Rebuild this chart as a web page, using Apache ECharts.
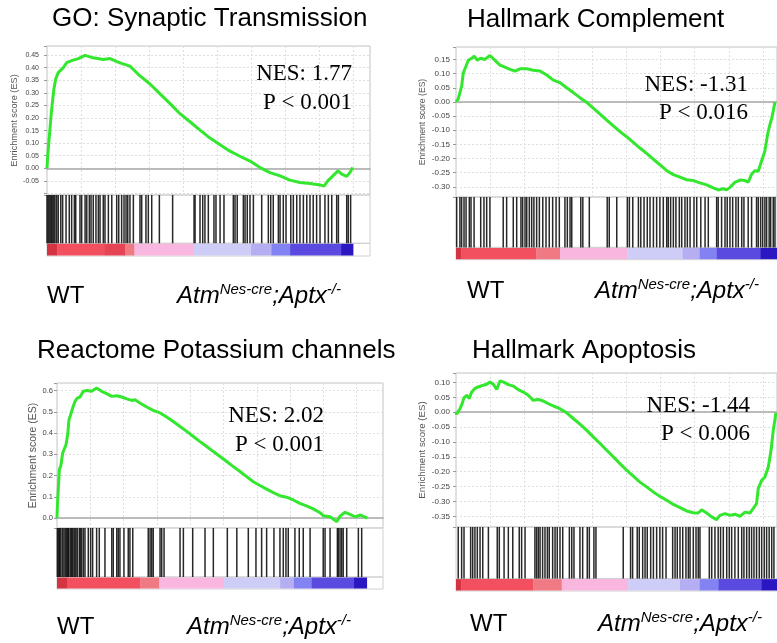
<!DOCTYPE html>
<html><head><meta charset="utf-8">
<script src="https://cdn.jsdelivr.net/npm/echarts@6.0.0/dist/echarts.min.js"></script>
<style>html,body{margin:0;padding:0;background:#fff}#c{width:777px;height:643px}</style>
</head><body><div id="c"></div>
<script>
// ---------- data (gene rank in thousands, running enrichment score) ----------
const titles = ['GO: Synaptic Transmission','Hallmark Complement','Reactome Potassium channels','Hallmark Apoptosis'];
const nesLabels = ['NES: 1.77','NES: -1.31','NES: 2.02','NES: -1.44'];
const pLabels = ['P < 0.001','P < 0.016','P < 0.001','P < 0.006'];
const lowGroup = 'WT';
const yName = 'Enrichment score (ES)';

const p1Ticks = ['-0.05','0.00','0.05','0.10','0.15','0.20','0.25','0.30','0.35','0.40','0.45'];
const p2Ticks = ['-0.30','-0.25','-0.20','-0.15','-0.10','-0.05','0.00','0.05','0.10','0.15'];
const p3Ticks = ['0.0','0.1','0.2','0.3','0.4','0.5','0.6'];
const p4Ticks = ['-0.35','-0.30','-0.25','-0.20','-0.15','-0.10','-0.05','0.00','0.05','0.10'];

const p1Curve = [[0,0],[0.04,0.048],[0.12,0.113],[0.18,0.16],[0.24,0.21],[0.31,0.257],[0.41,0.316],[0.51,0.355],[0.66,0.38],[0.96,0.40],[1.16,0.42],[1.45,0.428],[1.84,0.436],[2.24,0.449],[2.72,0.439],[3.31,0.432],[3.71,0.436],[4.29,0.419],[4.88,0.406],[5.47,0.367],[6.06,0.335],[6.65,0.296],[7.24,0.257],[7.82,0.217],[8.41,0.185],[9.0,0.152],[9.59,0.12],[10.18,0.094],[10.76,0.068],[11.35,0.048],[11.94,0.029],[12.53,0.003],[13.12,-0.017],[13.71,-0.03],[14.29,-0.047],[14.88,-0.056],[15.47,-0.06],[16.06,-0.066],[16.29,-0.071],[16.53,-0.049],[16.82,-0.03],[17.12,-0.01],[17.34,-0.023],[17.63,-0.032],[17.82,-0.017],[17.98,0.003]];
const p2Curve = [[0,0],[0.04,-0.002],[0.13,0.01],[0.23,0.015],[0.33,0.056],[0.43,0.103],[0.59,0.127],[0.72,0.147],[0.92,0.154],[1.07,0.162],[1.25,0.147],[1.45,0.154],[1.70,0.15],[1.99,0.164],[2.29,0.147],[2.58,0.13],[2.87,0.123],[3.17,0.115],[3.46,0.109],[3.75,0.117],[4.15,0.117],[4.53,0.112],[4.93,0.109],[5.32,0.095],[5.71,0.077],[6.10,0.068],[6.49,0.05],[6.88,0.033],[7.27,0.015],[7.67,-0.002],[8.05,-0.022],[8.45,-0.043],[8.84,-0.064],[9.23,-0.085],[9.62,-0.105],[10.01,-0.123],[10.40,-0.143],[10.79,-0.163],[11.18,-0.182],[11.57,-0.202],[11.96,-0.222],[12.36,-0.243],[12.75,-0.257],[13.14,-0.266],[13.53,-0.275],[13.92,-0.278],[14.31,-0.286],[14.70,-0.293],[15.09,-0.304],[15.38,-0.311],[15.68,-0.307],[15.88,-0.311],[16.07,-0.302],[16.36,-0.284],[16.66,-0.276],[16.95,-0.278],[17.14,-0.284],[17.34,-0.255],[17.54,-0.243],[17.73,-0.245],[17.93,-0.208],[18.12,-0.173],[18.28,-0.114],[18.42,-0.079],[18.51,-0.061],[18.61,-0.032],[18.71,0.0]];
const p3Curve = [[0,0],[0.02,0.053],[0.08,0.14],[0.14,0.227],[0.24,0.25],[0.34,0.306],[0.44,0.313],[0.54,0.345],[0.64,0.392],[0.72,0.463],[0.82,0.487],[0.94,0.518],[1.08,0.549],[1.22,0.565],[1.38,0.57],[1.58,0.597],[1.82,0.601],[2.08,0.597],[2.38,0.612],[2.68,0.597],[2.98,0.586],[3.29,0.573],[3.59,0.576],[3.89,0.57],[4.19,0.561],[4.49,0.554],[4.68,0.557],[4.98,0.542],[5.39,0.523],[5.78,0.507],[6.19,0.495],[6.59,0.476],[6.98,0.455],[7.39,0.431],[7.79,0.408],[8.19,0.384],[8.59,0.36],[8.99,0.337],[9.39,0.313],[9.79,0.29],[10.19,0.266],[10.59,0.242],[10.99,0.219],[11.39,0.195],[11.79,0.171],[12.19,0.153],[12.59,0.136],[12.99,0.12],[13.39,0.105],[13.79,0.098],[14.19,0.085],[14.59,0.069],[14.98,0.057],[15.39,0.043],[15.80,0.025],[15.99,0.011],[16.40,0.006],[16.80,-0.017],[17.0,0.009],[17.30,0.027],[17.60,0.017],[17.90,0.006],[18.24,0.014],[18.46,0.006],[18.64,0.0]];
const p4Curve = [[0,0],[0.04,-0.007],[0.13,-0.01],[0.23,0.012],[0.33,0.024],[0.47,0.049],[0.63,0.057],[0.78,0.046],[0.92,0.068],[1.11,0.08],[1.31,0.085],[1.60,0.091],[1.80,0.094],[1.99,0.102],[2.19,0.094],[2.39,0.077],[2.58,0.105],[2.77,0.102],[3.07,0.093],[3.36,0.088],[3.65,0.076],[3.95,0.068],[4.24,0.057],[4.53,0.04],[4.83,0.043],[5.12,0.038],[5.41,0.029],[5.71,0.021],[6.10,0.012],[6.49,-0.002],[6.88,-0.021],[7.27,-0.04],[7.67,-0.061],[8.05,-0.083],[8.45,-0.105],[8.84,-0.128],[9.23,-0.15],[9.62,-0.173],[10.01,-0.195],[10.40,-0.215],[10.79,-0.235],[11.18,-0.251],[11.57,-0.268],[11.96,-0.283],[12.36,-0.296],[12.75,-0.31],[13.14,-0.321],[13.53,-0.332],[13.92,-0.338],[14.21,-0.339],[14.41,-0.328],[14.70,-0.339],[15.00,-0.352],[15.29,-0.361],[15.48,-0.347],[15.78,-0.341],[16.07,-0.347],[16.36,-0.343],[16.66,-0.35],[16.95,-0.336],[17.24,-0.339],[17.43,-0.324],[17.63,-0.307],[17.73,-0.257],[17.93,-0.229],[18.12,-0.218],[18.32,-0.184],[18.48,-0.128],[18.61,-0.061],[18.77,-0.002]];

const p1Hits = [0,0.06,0.12,0.18,0.24,0.29,0.35,0.41,0.47,0.57,0.66,0.81,0.92,1.12,1.31,1.45,1.61,1.69,1.94,2.04,2.24,2.34,2.49,2.59,2.72,2.88,3.02,3.12,3.31,3.41,3.61,3.81,4.10,4.22,4.39,4.53,4.65,4.75,4.88,5.08,5.47,5.57,5.82,5.96,6.16,6.61,7.39,8.65,8.71,9.0,9.16,9.29,9.49,9.82,9.94,10.18,10.41,10.96,11.06,11.19,11.55,11.65,11.78,11.94,12.14,12.63,13.02,13.16,13.31,13.61,13.71,13.90,14.06,14.34,14.49,14.69,14.88,15.08,15.28,15.47,15.66,15.86,16.06,16.35,16.55,16.75,17.04,17.14,17.63,17.72,17.86];
const p2Hits = [0.04,0.23,0.33,0.47,0.59,0.78,0.88,1.06,1.45,1.64,1.80,1.99,2.77,2.97,3.36,3.56,3.81,3.91,4.05,4.15,4.30,4.44,4.57,4.73,4.89,5.09,5.28,5.47,5.67,5.87,6.06,6.39,6.53,6.69,6.79,7.32,7.44,7.82,8.87,8.99,9.43,10.05,10.17,10.37,10.70,10.84,11.03,11.22,11.38,11.58,11.77,11.96,12.16,12.36,12.45,12.59,12.75,12.90,13.10,13.24,13.43,13.57,13.73,13.96,14.12,14.36,14.61,14.80,15.29,15.38,15.58,15.78,15.91,16.07,16.23,16.42,16.56,16.76,16.89,17.14,17.34,17.63,17.73,17.87,17.99,18.12,18.22,18.37,18.46,18.61,18.71];
const p3Hits = [0.02,0.08,0.14,0.18,0.24,0.34,0.42,0.50,0.58,0.64,0.68,0.72,0.82,0.88,0.94,1.02,1.08,1.14,1.22,1.34,1.40,1.48,1.58,1.68,1.88,2.02,2.14,2.38,2.54,2.88,3.29,3.38,3.59,3.68,3.78,4.02,4.28,4.38,4.55,5.48,5.59,5.69,5.78,6.19,6.29,6.43,7.39,7.59,8.15,8.89,9.39,10.23,10.80,11.49,11.95,12.29,12.59,13.03,13.39,13.59,13.75,13.89,14.29,14.55,14.79,15.20,15.99,16.10,16.40,16.84,16.90,17.00,17.10,17.19,17.40,18.10,18.30];
const p4Hits = [0.13,0.33,0.47,0.86,0.98,1.11,1.25,1.41,1.57,1.90,2.42,2.54,2.82,3.07,3.33,3.71,3.85,4.05,4.63,4.73,4.83,4.93,5.08,5.22,5.36,5.47,5.67,5.81,5.94,6.10,6.26,6.65,6.79,6.92,7.27,7.43,7.70,7.82,8.09,8.21,9.81,10.24,10.36,10.63,10.75,10.95,11.09,11.22,11.42,11.58,11.77,11.96,12.12,12.32,12.71,12.85,12.98,13.14,13.30,13.49,13.63,13.73,13.92,14.08,14.21,14.31,14.86,15.00,15.19,15.38,15.52,15.68,15.88,16.03,16.17,16.36,16.56,16.76,16.89,17.05,17.20,17.34,17.48,17.63,17.79,17.93,18.08,18.22,18.37,18.52,18.65];

// ranked-list metric bands: [startRank, endRank, metricLevel]
const p1Bar = [[0,0.6,1.0],[0.6,3.4,0.85],[3.4,4.6,0.95],[4.6,5.14,0.7],[5.14,8.65,0.5],[8.65,12.0,-0.5],[12.0,13.2,-0.6],[13.2,14.3,-0.7],[14.3,17.3,-0.85],[17.3,18.0,-1.0]];
const p2Bar = [[0,0.3,1.0],[0.3,4.7,0.85],[4.7,6.1,0.7],[6.1,10.05,0.5],[10.05,13.3,-0.5],[13.3,14.3,-0.6],[14.3,15.3,-0.7],[15.3,17.87,-0.85],[17.87,18.83,-1.0]];
const p3Bar = [[0,0.6,1.0],[0.6,5.0,0.85],[5.0,6.14,0.7],[6.14,10.03,0.5],[10.03,13.4,-0.5],[13.4,14.23,-0.6],[14.23,15.3,-0.7],[15.3,17.84,-0.85],[17.84,18.6,-1.0]];
const p4Bar = [[0,0.3,1.0],[0.3,4.53,0.85],[4.53,6.2,0.7],[6.2,10.1,0.5],[10.1,13.14,-0.5],[13.14,14.3,-0.6],[14.3,15.4,-0.7],[15.4,17.93,-0.85],[17.93,18.83,-1.0]];

// ---------- layout / style ----------
const curves = [p1Curve,p2Curve,p3Curve,p4Curve];
const hitsAll = [p1Hits,p2Hits,p3Hits,p4Hits];
const bars = [p1Bar,p2Bar,p3Bar,p4Bar];
const ticksAll = [p1Ticks,p2Ticks,p3Ticks,p4Ticks];
const L = [
 {left:47, top:46, h:149, hitH:48.3, barH:12.7, w:323, xMax:19.0, yMin:-0.106, yMax:0.486, step:0.05, tf:7, lm:8, nf:9.2, ng:28, tx:52, ty:19, nr:352, ny:74, py:102.5, wx:47, ly:296, ax:177},
 {left:456, top:47, h:150, hitH:50.4, barH:12.3, w:321, xMax:18.83, yMin:-0.336, yMax:0.194, step:0.05, tf:8, lm:6, nf:8.6, ng:29, tx:467, ty:19.5, nr:748, ny:85, py:113, wx:467, ly:291.5, ax:595},
 {left:57, top:383, h:145, hitH:49, barH:12, w:326, xMax:19.58, yMin:-0.047, yMax:0.636, step:0.1, tf:7.5, lm:4, nf:10.5, ng:18.5, tx:37, ty:351.3, nr:324, ny:415.7, py:445, wx:57, ly:627.5, ax:187},
 {left:456, top:373, h:154, hitH:51.6, barH:12.4, w:321, xMax:18.83, yMin:-0.386, yMax:0.132, step:0.05, tf:8, lm:6, nf:9.7, ng:29, tx:472, ty:351.3, nr:750, ny:405.7, py:434, wx:470, ly:624, ax:598}
];
const SANS = '"Liberation Sans", Arial, sans-serif';
const SERIF = '"Liberation Serif", "Times New Roman", serif';

const grid = [], xAxis = [], yAxis = [], series = [], graphic = [];
L.forEach((l, i) => {
  const g = i * 3;
  grid.push({left:l.left, top:l.top, width:l.w, height:l.h, show:true, borderColor:'#c4c4c4', borderWidth:1, outerBoundsMode:'none', containLabel:false});
  grid.push({left:l.left, top:l.top + l.h, width:l.w, height:l.hitH, show:true, borderColor:'#d0d0d0', borderWidth:1, outerBoundsMode:'none', containLabel:false});
  grid.push({left:l.left, top:l.top + l.h + l.hitH, width:l.w, height:l.barH, show:true, borderColor:'#d0d0d0', borderWidth:1, outerBoundsMode:'none', containLabel:false});
  xAxis.push({type:'value', gridIndex:g, min:0, max:l.xMax, interval:2,
    axisLabel:{show:false}, axisTick:{show:false},
    axisLine:{show:true, onZero:true, lineStyle:{color:'#a8a8a8', width:1.5}},
    splitLine:{show:true, lineStyle:{color:'#dedede', type:[2,2], width:1}}});
  for (let k = 1; k <= 2; k++) xAxis.push({type:'value', gridIndex:g + k, min:0, max:l.xMax, show:false, splitLine:{show:false}});
  const ticks = ticksAll[i];
  yAxis.push({type:'value', gridIndex:g, min:l.yMin, max:l.yMax, splitNumber:10, minInterval:l.step, maxInterval:l.step,
    name:yName, nameLocation:'middle', nameGap:l.ng, nameRotate:90,
    nameTextStyle:{fontFamily:SANS, fontSize:l.nf, color:'#555'},
    axisLine:{show:false}, axisTick:{show:true, length:3, lineStyle:{color:'#999'}},
    axisLabel:{interval:0, margin:l.lm, fontFamily:SANS, fontSize:l.tf, color:'#444',
      formatter: v => ticks.find(s => Math.abs(parseFloat(s) - v) < 1e-6) || ''},
    splitLine:{show:true, lineStyle:{color:'#dedede', type:[2,2], width:1}}});
  for (let k = 1; k <= 2; k++) yAxis.push({type:'value', gridIndex:g + k, min:0, max:1, show:false, splitLine:{show:false}});

  series.push({type:'line', xAxisIndex:g, yAxisIndex:g, data:curves[i], showSymbol:false, symbol:'none',
    lineStyle:{color:'#33e62e', width:3}, z:5, animation:false});
  series.push({type:'custom', xAxisIndex:g + 1, yAxisIndex:g + 1, data:hitsAll[i].map(r => [r, 0.5]), encode:{x:0, y:1}, animation:false,
    renderItem:(params, api) => {
      const x = api.coord([api.value(0), 0.5])[0];
      const cs = params.coordSys;
      return {type:'line', shape:{x1:x, y1:cs.y, x2:x, y2:cs.y + cs.height}, style:{stroke:'#111', lineWidth:1.5, opacity:0.9}};
    }});
  series.push({type:'custom', xAxisIndex:g + 2, yAxisIndex:g + 2, data:bars[i], encode:{x:[0,1], y:2}, animation:false,
    renderItem:(params, api) => {
      const a = api.coord([api.value(0), 0.5])[0], b = api.coord([api.value(1), 0.5])[0];
      const cs = params.coordSys;
      return {type:'rect', shape:{x:a, y:cs.y + 0.5, width:b - a + 0.4, height:cs.height - 1}, style:{fill:api.visual('color')}};
    }});

  const txt = (x, y, text, font, align) => ({type:'text', x, y, z:100, silent:true,
    style:{text, font, fill:'#000', align, textAlign:align, verticalAlign:'middle', textVerticalAlign:'middle'}});
  graphic.push(txt(l.tx, l.ty, titles[i], '26px ' + SANS, 'left'));
  graphic.push(txt(l.nr, l.ny, nesLabels[i], '23px ' + SERIF, 'right'));
  graphic.push(txt(l.nr, l.py, pLabels[i], '23px ' + SERIF, 'right'));
  graphic.push(txt(l.wx, l.ly, lowGroup, '24px ' + SANS, 'left'));
  graphic.push({type:'text', x:l.ax, y:l.ly, z:100, silent:true,
    style:{text:'{m|Atm}{s|Nes-cre}{m|;Aptx}{s|-/-}', fill:'#000', align:'left', textAlign:'left', verticalAlign:'middle', textVerticalAlign:'middle',
      rich:{m:{fontFamily:SANS, fontStyle:'italic', fontSize:24, lineHeight:28},
            s:{fontFamily:SANS, fontStyle:'italic', fontSize:15, lineHeight:17, verticalAlign:'top'}}}});
});

const chart = echarts.init(document.getElementById('c'), null, {renderer:'canvas'});
chart.setOption({
  animation:false, backgroundColor:'#fff',
  grid, xAxis, yAxis, series, graphic,
  visualMap:{type:'piecewise', show:false, dimension:2, seriesIndex:[2,5,8,11],
    pieces:[{value:1.0, color:'#d33343'},{value:0.95, color:'#e44454'},{value:0.85, color:'#f2505e'},{value:0.7, color:'#f07a84'},
            {value:0.5, color:'#f9b6df'},{value:-0.5, color:'#cdcdf8'},{value:-0.6, color:'#b5aef2'},{value:-0.7, color:'#8282f2'},
            {value:-0.85, color:'#5b4ae0'},{value:-1.0, color:'#2a17c2'}]}
});
</script></body></html>
